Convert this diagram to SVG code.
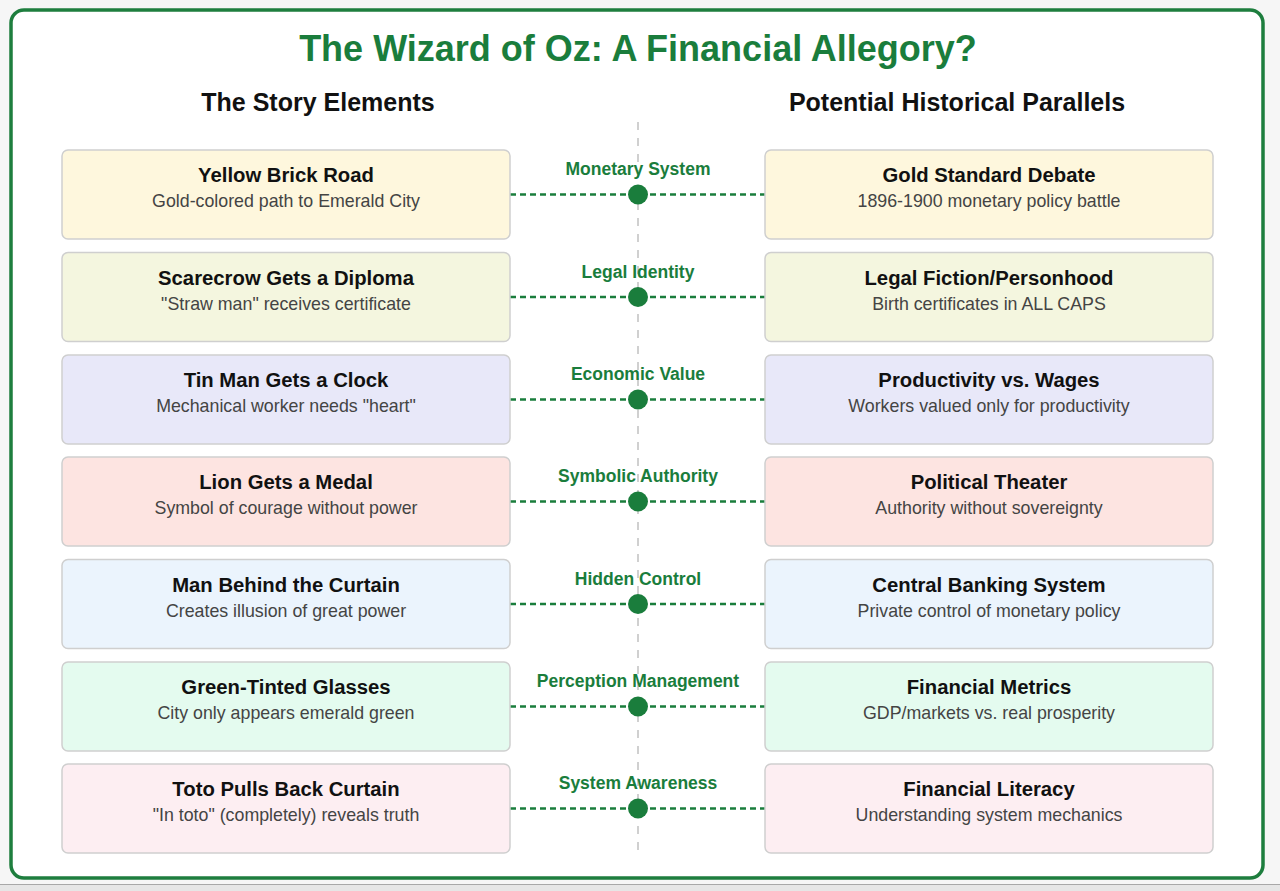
<svg xmlns="http://www.w3.org/2000/svg" width="1280" height="891" viewBox="0 0 1280 891">
<style>
.title{font-family:"Liberation Sans",Arial,sans-serif;font-weight:bold;font-size:36px;fill:#1a7d3c;text-anchor:middle}
.hdr{font-family:"Liberation Sans",Arial,sans-serif;font-weight:bold;font-size:25px;fill:#111;text-anchor:middle}
.box{stroke:#cfcfcf;stroke-width:1.5}
.bt{font-family:"Liberation Sans",Arial,sans-serif;font-weight:bold;font-size:20.3px;fill:#111;text-anchor:middle}
.bs{font-family:"Liberation Sans",Arial,sans-serif;font-size:17.8px;fill:#444;text-anchor:middle}
.lbl{font-family:"Liberation Sans",Arial,sans-serif;font-weight:bold;font-size:17.5px;fill:#1a7d3c;text-anchor:middle}
.dash{stroke:#1a7d3c;stroke-width:2.3;stroke-dasharray:6 4;fill:none}
.dot{fill:#1a7d3c}
.c1{fill:#fef7dd}.c2{fill:#f4f6df}.c3{fill:#e8e8f9}.c4{fill:#fde4e1}.c5{fill:#ebf4fd}.c6{fill:#e4fbef}.c7{fill:#fdeef2}
</style>
<rect x="0" y="0" width="1280" height="891" fill="#f6f6f6"/>
<rect x="0" y="884" width="1280" height="7" fill="#e6e6e6"/>
<line x1="0" y1="884.5" x2="1280" y2="884.5" stroke="#a8a8a8" stroke-width="1"/>
<rect id="frame" x="11" y="10" width="1252" height="868" rx="13" fill="#ffffff" stroke="#1e7e3e" stroke-width="3.5"/>
<text class="title" x="638" y="61">The Wizard of Oz: A Financial Allegory?</text>
<text class="hdr" x="318" y="111">The Story Elements</text>
<text class="hdr" x="957" y="111">Potential Historical Parallels</text>
<line id="divider" x1="638" y1="122" x2="638" y2="850" stroke="#d0d0d0" stroke-width="2" stroke-dasharray="8 8"/>
<g id="connectors">
<line class="dash" x1="510" y1="194.5" x2="765" y2="194.5"/>
<line class="dash" x1="510" y1="297" x2="765" y2="297"/>
<line class="dash" x1="510" y1="399.5" x2="765" y2="399.5"/>
<line class="dash" x1="510" y1="501.5" x2="765" y2="501.5"/>
<line class="dash" x1="510" y1="604" x2="765" y2="604"/>
<line class="dash" x1="510" y1="706.5" x2="765" y2="706.5"/>
<line class="dash" x1="510" y1="808.5" x2="765" y2="808.5"/>
<circle class="dot" cx="638" cy="194.5" r="10"/>
<circle class="dot" cx="638" cy="297" r="10"/>
<circle class="dot" cx="638" cy="399.5" r="10"/>
<circle class="dot" cx="638" cy="501.5" r="10"/>
<circle class="dot" cx="638" cy="604" r="10"/>
<circle class="dot" cx="638" cy="706.5" r="10"/>
<circle class="dot" cx="638" cy="808.5" r="10"/>
<text class="lbl" x="638" y="175">Monetary System</text>
<text class="lbl" x="638" y="277.5">Legal Identity</text>
<text class="lbl" x="638" y="380">Economic Value</text>
<text class="lbl" x="638" y="482">Symbolic Authority</text>
<text class="lbl" x="638" y="584.5">Hidden Control</text>
<text class="lbl" x="638" y="687">Perception Management</text>
<text class="lbl" x="638" y="789">System Awareness</text>
</g>
<g id="story-1"><rect class="box c1" x="62" y="150" width="448" height="89" rx="6"/><text class="bt" x="286" y="182">Yellow Brick Road</text><text class="bs" x="286" y="207">Gold-colored path to Emerald City</text></g>
<g id="story-2"><rect class="box c2" x="62" y="252.5" width="448" height="89" rx="6"/><text class="bt" x="286" y="284.5">Scarecrow Gets a Diploma</text><text class="bs" x="286" y="309.5">"Straw man" receives certificate</text></g>
<g id="story-3"><rect class="box c3" x="62" y="355" width="448" height="89" rx="6"/><text class="bt" x="286" y="387">Tin Man Gets a Clock</text><text class="bs" x="286" y="412">Mechanical worker needs "heart"</text></g>
<g id="story-4"><rect class="box c4" x="62" y="457" width="448" height="89" rx="6"/><text class="bt" x="286" y="489">Lion Gets a Medal</text><text class="bs" x="286" y="514">Symbol of courage without power</text></g>
<g id="story-5"><rect class="box c5" x="62" y="559.5" width="448" height="89" rx="6"/><text class="bt" x="286" y="591.5">Man Behind the Curtain</text><text class="bs" x="286" y="616.5">Creates illusion of great power</text></g>
<g id="story-6"><rect class="box c6" x="62" y="662" width="448" height="89" rx="6"/><text class="bt" x="286" y="694">Green-Tinted Glasses</text><text class="bs" x="286" y="719">City only appears emerald green</text></g>
<g id="story-7"><rect class="box c7" x="62" y="764" width="448" height="89" rx="6"/><text class="bt" x="286" y="796">Toto Pulls Back Curtain</text><text class="bs" x="286" y="821">"In toto" (completely) reveals truth</text></g>
<g id="parallel-1"><rect class="box c1" x="765" y="150" width="448" height="89" rx="6"/><text class="bt" x="989" y="182">Gold Standard Debate</text><text class="bs" x="989" y="207">1896-1900 monetary policy battle</text></g>
<g id="parallel-2"><rect class="box c2" x="765" y="252.5" width="448" height="89" rx="6"/><text class="bt" x="989" y="284.5">Legal Fiction/Personhood</text><text class="bs" x="989" y="309.5">Birth certificates in ALL CAPS</text></g>
<g id="parallel-3"><rect class="box c3" x="765" y="355" width="448" height="89" rx="6"/><text class="bt" x="989" y="387">Productivity vs. Wages</text><text class="bs" x="989" y="412">Workers valued only for productivity</text></g>
<g id="parallel-4"><rect class="box c4" x="765" y="457" width="448" height="89" rx="6"/><text class="bt" x="989" y="489">Political Theater</text><text class="bs" x="989" y="514">Authority without sovereignty</text></g>
<g id="parallel-5"><rect class="box c5" x="765" y="559.5" width="448" height="89" rx="6"/><text class="bt" x="989" y="591.5">Central Banking System</text><text class="bs" x="989" y="616.5">Private control of monetary policy</text></g>
<g id="parallel-6"><rect class="box c6" x="765" y="662" width="448" height="89" rx="6"/><text class="bt" x="989" y="694">Financial Metrics</text><text class="bs" x="989" y="719">GDP/markets vs. real prosperity</text></g>
<g id="parallel-7"><rect class="box c7" x="765" y="764" width="448" height="89" rx="6"/><text class="bt" x="989" y="796">Financial Literacy</text><text class="bs" x="989" y="821">Understanding system mechanics</text></g>
</svg>
